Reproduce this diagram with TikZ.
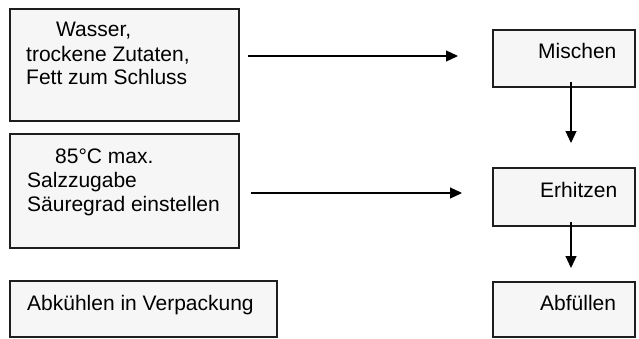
\documentclass[tikz,border=0pt]{standalone}
\usepackage{fontspec}
\setmainfont{Liberation Sans}
\usetikzlibrary{arrows.meta}
\definecolor{boxfill}{HTML}{F6F6F6}
\definecolor{boxline}{HTML}{1E1E1E}
\tikzset{
  stepbox/.style={draw=boxline, fill=boxfill, line width=1.3pt, inner sep=0pt,
    outer sep=0pt, anchor=north west},
  lbl/.style={anchor=base west, inner sep=0pt, font=\fontsize{21}{24}\selectfont},
  flow/.style={line width=1.2pt, draw=black,
    -{Triangle[length=12pt,width=11pt]}}
}
\begin{document}
\begin{tikzpicture}[x=1pt,y=-1pt]
\useasboundingbox (0,0) rectangle (639,338);

% left column: inputs and conditions
\node[stepbox, minimum width=229pt, minimum height=112pt] (in1) at (10,9) {};
\node[stepbox, minimum width=229pt, minimum height=114pt] (in2) at (10,134) {};
\node[stepbox, minimum width=267pt, minimum height=56pt] (in3) at (10,281) {};

% right column: process steps
\node[stepbox, minimum width=142pt, minimum height=57pt] (mix) at (493,30) {};
\node[stepbox, minimum width=142pt, minimum height=58pt] (heat) at (493,168) {};
\node[stepbox, minimum width=142pt, minimum height=55pt] (fill) at (493,282) {};

% labels
\node[lbl] (t11) at (56,36) {Wasser,};
\node[lbl] (t12) at (26,61) {trockene Zutaten,};
\node[lbl] (t13) at (26,84) {Fett zum Schluss};
\node[lbl] (t21) at (55,163) {85°C max.};
\node[lbl] (t22) at (27,187) {Salzzugabe};
\node[lbl] (t23) at (27,211) {Säuregrad einstellen};
\node[lbl] (t31) at (27,310) {Abkühlen in Verpackung};
\node[lbl] (t41) at (538,58) {Mischen};
\node[lbl] (t42) at (540,197) {Erhitzen};
\node[lbl] (t43) at (540,310) {Abfüllen};

% connectors
\coordinate (a1s) at ([xshift=9pt]in1.east |- 0,56);
\coordinate (a1e) at ([xshift=-35pt]mix.west |- 0,56);
\coordinate (a2s) at ([xshift=12pt]in2.east |- 0,193);
\coordinate (a2e) at ([xshift=-31pt]heat.west |- 0,193);
\draw[flow] (a1s) -- (a1e);
\draw[flow] (a2s) -- (a2e);

\coordinate (v1s) at ([yshift=5pt]mix.south -| 571,0);
\coordinate (v1e) at (571,143);
\coordinate (v2s) at ([yshift=4pt]heat.south -| 571,0);
\coordinate (v2e) at (571,268);
\draw[flow] (v1s) -- (v1e);
\draw[flow] (v2s) -- (v2e);
\end{tikzpicture}
\end{document}
